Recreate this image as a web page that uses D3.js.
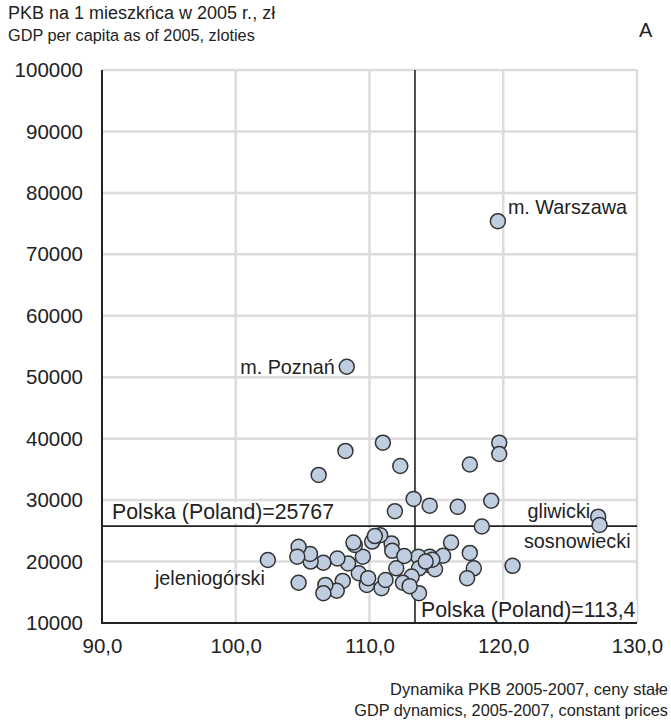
<!DOCTYPE html>
<html>
<head>
<meta charset="utf-8">
<script src="https://cdn.jsdelivr.net/npm/d3@7"></script>
<style>
  body { margin: 0; background: #fff; }
  text { font-family: "Liberation Sans", Arial, sans-serif; fill: #222; }
</style>
</head>
<body>
<svg id="chart" width="671" height="724"></svg>
<script>
// dynamics 2005-2007 (x) vs GDP per capita 2005 (y)
const dynamics = [119.6, 108.3, 127.1, 127.2, 108.2, 106.2, 111.0, 119.7, 119.7, 117.5, 112.3, 113.3,
  114.5, 116.6, 119.1, 111.9, 118.4, 116.1, 117.5, 117.8, 117.3, 120.7, 115.5, 114.5, 113.65, 114.4,
  114.9, 113.7, 113.15, 112.0, 112.5, 113.7, 111.65, 111.7, 110.8, 110.9, 110.2, 110.4, 109.8, 109.5,
  109.2, 108.9, 108.4, 108.0, 107.6, 107.55, 106.7, 106.55, 106.55, 105.6, 105.55, 104.7, 104.6, 104.7,
  102.4, 112.6, 113.0, 111.2, 114.7, 114.2, 109.9, 108.8]
const gdpPerCapita = [75400, 51700, 27300, 25950, 38000, 34100, 39350, 39350, 37500, 35800, 35550, 30200,
  29100, 28900, 29900, 28200, 25700, 23100, 21400, 18900, 17300, 19300, 20950, 20800, 20800, 19450,
  18750, 18900, 17550, 18900, 16550, 14850, 22950, 21750, 24300, 15650, 23250, 24150, 16200, 20800,
  18100, 22700, 19700, 16850, 20500, 15250, 16200, 14850, 19800, 20000, 21250, 22400, 20800, 16550,
  20250, 20900, 16000, 17000, 20300, 20000, 17300, 23100]

const xTicks = [90, 100, 110, 120, 130]
const yTicks = [10000, 20000, 30000, 40000, 50000, 60000, 70000, 80000, 90000, 100000]
const polandX = 113.4
const polandY = 25767

// annotations: [text, x value, y value, dx, dy, anchor]
const pointLabels = [
  ["m. Warszawa", 119.6, 75400, 10, -7, "start"],
  ["m. Poznań", 108.3, 51700, -12, 7, "end"],
  ["gliwicki", 127.1, 27300, -8, 1, "end"],
  ["sosnowiecki", 127.2, 25950, 31, 23, "end"],
  ["jeleniogórski", 102.4, 20250, -3, 25, "end"]
]

const svg = d3.select("#chart")
const margin = { left: 102, top: 70, right: 34, bottom: 101 }
const W = 671, H = 724
const fs = "20.5px"

const x = d3.scaleLinear().domain([90, 130]).range([margin.left, W - margin.right])
const y = d3.scaleLinear().domain([10000, 100000]).range([H - margin.bottom, margin.top])

// grid
const grid = svg.append("g").attr("stroke", "#dcdcdc").attr("stroke-width", 2.5)
grid.selectAll(".hg").data(yTicks.slice(1)).join("line")
  .attr("x1", x(90)).attr("x2", x(130))
  .attr("y1", d => y(d)).attr("y2", d => y(d))
grid.selectAll(".vg").data(xTicks.slice(1)).join("line")
  .attr("x1", d => x(d)).attr("x2", d => x(d))
  .attr("y1", y(100000)).attr("y2", y(10000))

// axes labels
const fmtX = d => d3.format(".1f")(d).replace(".", ",")
const yAxis = svg.append("g").attr("transform", `translate(${x(90)},0)`)
  .call(d3.axisLeft(y).tickValues(yTicks).tickSize(0).tickPadding(19).tickFormat(d3.format("d")))
yAxis.select(".domain").remove()
yAxis.selectAll("text").style("font-size", fs).attr("fill", "#222")

const xAxis = svg.append("g").attr("transform", `translate(0,${y(10000)})`)
  .call(d3.axisBottom(x).tickValues(xTicks).tickSize(0).tickPadding(15).tickFormat(fmtX))
xAxis.select(".domain").remove()
xAxis.selectAll("text").style("font-size", fs).attr("fill", "#222")

// axis lines
svg.append("line").attr("x1", x(90)).attr("x2", x(90)).attr("y1", y(100000)).attr("y2", y(10000))
  .attr("stroke", "#222").attr("stroke-width", 2)
svg.append("line").attr("x1", x(90) - 1).attr("x2", x(130)).attr("y1", y(10000)).attr("y2", y(10000))
  .attr("stroke", "#222").attr("stroke-width", 2)

// Poland reference lines
svg.append("line").attr("x1", x(polandX)).attr("x2", x(polandX)).attr("y1", y(100000)).attr("y2", y(10000))
  .attr("stroke", "#222").attr("stroke-width", 1.6)
svg.append("line").attr("x1", x(90)).attr("x2", x(130)).attr("y1", y(polandY)).attr("y2", y(polandY))
  .attr("stroke", "#222").attr("stroke-width", 1.6)

const refLabel = (txt, px, py) => {
  const g = svg.append("g")
  const t = g.append("text").attr("x", px).attr("y", py).style("font-size", "21.3px").text(txt)
  const bb = t.node().getBBox()
  g.insert("rect", "text").attr("x", bb.x - 1).attr("y", bb.y + 2).attr("width", bb.width + 2).attr("height", bb.height - 3)
    .attr("fill", "#fff")
}
refLabel("Polska (Poland)=25767", x(90) + 10, y(polandY) - 7)
refLabel("Polska (Poland)=113,4", x(polandX) + 6, y(10000) - 6)

// points
const points = dynamics.map((d, i) => ({ dx: d, gdp: gdpPerCapita[i] }))
svg.append("g").selectAll("circle").data(points).join("circle")
  .attr("cx", d => x(d.dx)).attr("cy", d => y(d.gdp)).attr("r", 7.5)
  .attr("fill", "#bfcde1").attr("stroke", "#333").attr("stroke-width", 1.5)

// point annotations
svg.append("g").selectAll("text").data(pointLabels).join("text")
  .attr("x", d => x(d[1]) + d[3]).attr("y", d => y(d[2]) + d[4])
  .attr("text-anchor", d => d[5]).style("font-size", "19.8px").text(d => d[0])

// titles
svg.append("text").attr("x", 8).attr("y", 19).style("font-size", "18px").text("PKB na 1 mieszkńca w 2005 r., zł")
svg.append("text").attr("x", 8).attr("y", 41).style("font-size", "16.3px").text("GDP per capita as of 2005, zloties")
svg.append("text").attr("x", 639).attr("y", 37).style("font-size", "20px").text("A")
svg.append("text").attr("x", 668).attr("y", 695).attr("text-anchor", "end").style("font-size", "16.5px")
  .text("Dynamika PKB 2005-2007, ceny stałe")
svg.append("text").attr("x", 668).attr("y", 716).attr("text-anchor", "end").style("font-size", "16.3px")
  .text("GDP dynamics, 2005-2007, constant prices")
</script>
</body>
</html>
